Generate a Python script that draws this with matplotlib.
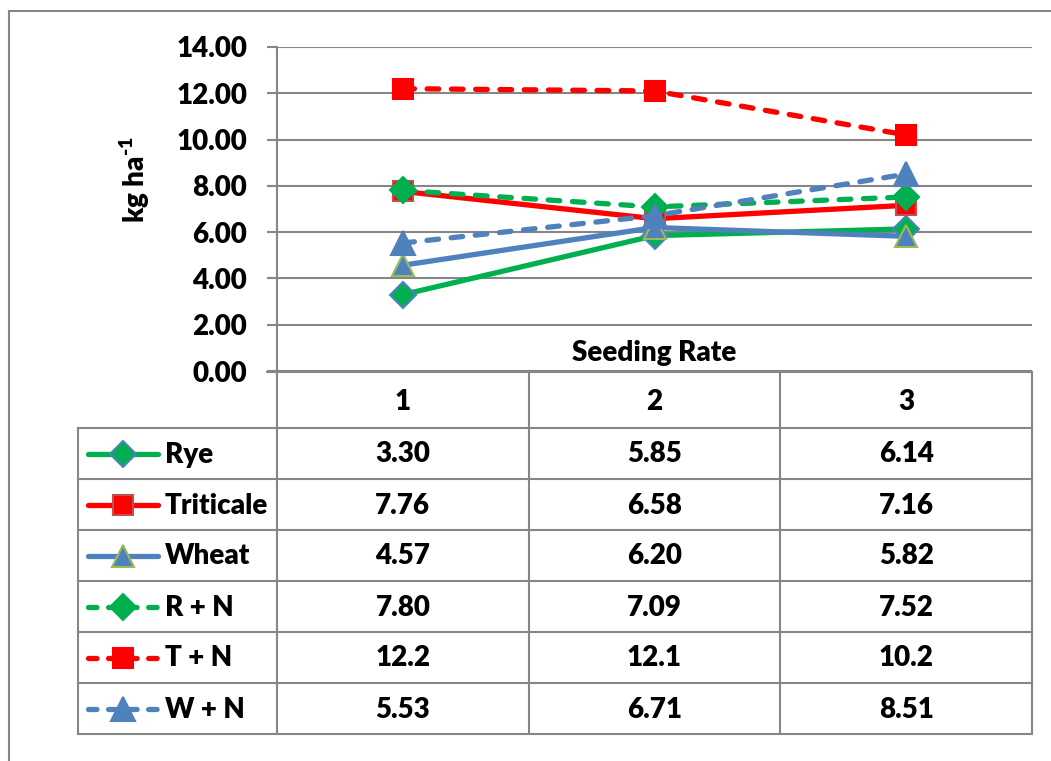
import matplotlib
matplotlib.use("Agg")
import matplotlib.pyplot as plt

FAMILY = ['Lato', 'DejaVu Sans']
WEIGHT = 'heavy'
plt.rcParams['font.family'] = FAMILY
plt.rcParams['font.weight'] = WEIGHT
plt.rcParams['mathtext.fontset'] = 'custom'
plt.rcParams['mathtext.rm'] = 'Lato:heavy'
plt.rcParams['mathtext.it'] = 'Lato:heavy'
plt.rcParams['mathtext.bf'] = 'Lato:heavy'
plt.rcParams['mathtext.default'] = 'rm'

# ---- data ----
seeding_rates = ['1', '2', '3']
series_names = ['Rye', 'Triticale', 'Wheat', 'R + N', 'T + N', 'W + N']
rye = [3.30, 5.85, 6.14]
triticale = [7.76, 6.58, 7.16]
wheat = [4.57, 6.20, 5.82]
rye_n = [7.80, 7.09, 7.52]
triticale_n = [12.2, 12.1, 10.2]
wheat_n = [5.53, 6.71, 8.51]
decimals = [2, 2, 2, 2, 1, 2]
y_ticks = [0, 2, 4, 6, 8, 10, 12, 14]

series_values = [rye, triticale, wheat, rye_n, triticale_n, wheat_n]

GREEN = '#00B050'
RED = '#FF0000'
BLUE = '#4F81BD'
GRID = '#868686'

styles = [
    dict(color=GREEN, ls='-', marker='D', ms=13, mfc=GREEN, mec=BLUE),
    dict(color=RED, ls='-', marker='s', ms=14, mfc=RED, mec='#C0504D'),
    dict(color=BLUE, ls='-', marker='^', ms=16, mfc=BLUE, mec='#9BBB59'),
    dict(color=GREEN, ls='--', marker='D', ms=13, mfc=GREEN, mec=GREEN),
    dict(color=RED, ls='--', marker='s', ms=15, mfc=RED, mec=RED),
    dict(color=BLUE, ls='--', marker='^', ms=17, mfc=BLUE, mec=BLUE),
]

W, H = 1051, 761
FS = 20
fig = plt.figure(figsize=(W / 100, H / 100), dpi=100)

# pixel-space overlay for frame and table
ov = fig.add_axes([0, 0, 1, 1])
ov.set_xlim(0, W)
ov.set_ylim(H, 0)
ov.axis('off')

# plot area
left, right, top, bottom = 277, 1032, 47, 371
ax = fig.add_axes([left / W, 1 - bottom / H, (right - left) / W, (bottom - top) / H])
ax.set_xlim(0.5, 3.5)
ax.set_ylim(0, 14)
ax.set_yticks(y_ticks)
ax.set_yticklabels([f'{t:.2f}' for t in y_ticks], fontsize=FS, fontweight=WEIGHT)
ax.set_xticks([])
for s in ['top', 'right', 'bottom']:
    ax.spines[s].set_visible(False)
ax.spines['left'].set_color(GRID)
ax.spines['left'].set_linewidth(1.5)
ax.tick_params(axis='y', length=7.5, width=1.5, color=GRID, pad=14)
ax.yaxis.grid(True, color=GRID, lw=1.5)
ax.set_axisbelow(True)
ax.patch.set_alpha(0)

xs = [1, 2, 3]
for vals, st in zip(series_values, styles):
    kw = dict(color=st['color'], lw=3.8, marker=st['marker'], ms=st['ms'],
              mfc=st['mfc'], mec=st['mec'], mew=1.5, solid_capstyle='round',
              dash_capstyle='round', clip_on=False)
    if st['ls'] == '--':
        ax.plot(xs, vals, dashes=(2.2, 2.4), **kw)
    else:
        ax.plot(xs, vals, ls='-', **kw)

ax.text(0.5, 0.015, 'Seeding Rate', transform=ax.transAxes, ha='center',
        va='bottom', fontsize=FS, fontweight=WEIGHT)

fig.text(135 / W, 1 - 180 / H, r'kg ha$^{\text{-1}}$', rotation=90, ha='center',
         va='center', fontsize=FS, fontweight=WEIGHT)

# outer frame
lw_frame = 1.5
ov.plot([9, 9], [11, H + 5], color=GRID, lw=lw_frame, clip_on=False)
ov.plot([9, W + 5], [11, 11], color=GRID, lw=lw_frame, clip_on=False)

# data table
col_edges = [left + i * (right - left) / 3 for i in range(4)]
legend_left = 78
header_top, header_bot = 372, 428
row_h = 51
n = len(series_names)
table_bot = header_bot + n * row_h

# header row
ov.plot([267, right], [header_top, header_top], color=GRID, lw=lw_frame)
for x in col_edges:
    ov.plot([x, x], [header_top, table_bot], color=GRID, lw=lw_frame)
for i, lab in enumerate(seeding_rates):
    cx = (col_edges[i] + col_edges[i + 1]) / 2
    ov.text(cx, (header_top + header_bot) / 2 + 2, lab, ha='center', va='center',
            fontsize=FS, fontweight=WEIGHT)

# body rows
ov.plot([legend_left, legend_left], [header_bot, table_bot], color=GRID, lw=lw_frame)
for r in range(n + 1):
    y = header_bot + r * row_h
    ov.plot([legend_left, right], [y, y], color=GRID, lw=lw_frame)

for r, (name, vals, st, dec) in enumerate(zip(series_names, series_values, styles, decimals)):
    cy = header_bot + r * row_h + row_h / 2
    kw = dict(color=st['color'], lw=3.8, marker=st['marker'], ms=st['ms'],
              mfc=st['mfc'], mec=st['mec'], mew=1.5, markevery=[1],
              solid_capstyle='round', dash_capstyle='round')
    if st['ls'] == '--':
        ov.plot([88, 123, 158], [cy, cy, cy], dashes=(1.6, 2.2), **kw)
    else:
        ov.plot([88, 123, 158], [cy, cy, cy], ls='-', **kw)
    ov.text(165, cy + 1, name, ha='left', va='center', fontsize=FS, fontweight=WEIGHT)
    for i, v in enumerate(vals):
        cx = (col_edges[i] + col_edges[i + 1]) / 2
        ov.text(cx, cy + 1, f'{v:.{dec}f}', ha='center', va='center',
                fontsize=FS, fontweight=WEIGHT)

fig.savefig('out.png', dpi=100)
